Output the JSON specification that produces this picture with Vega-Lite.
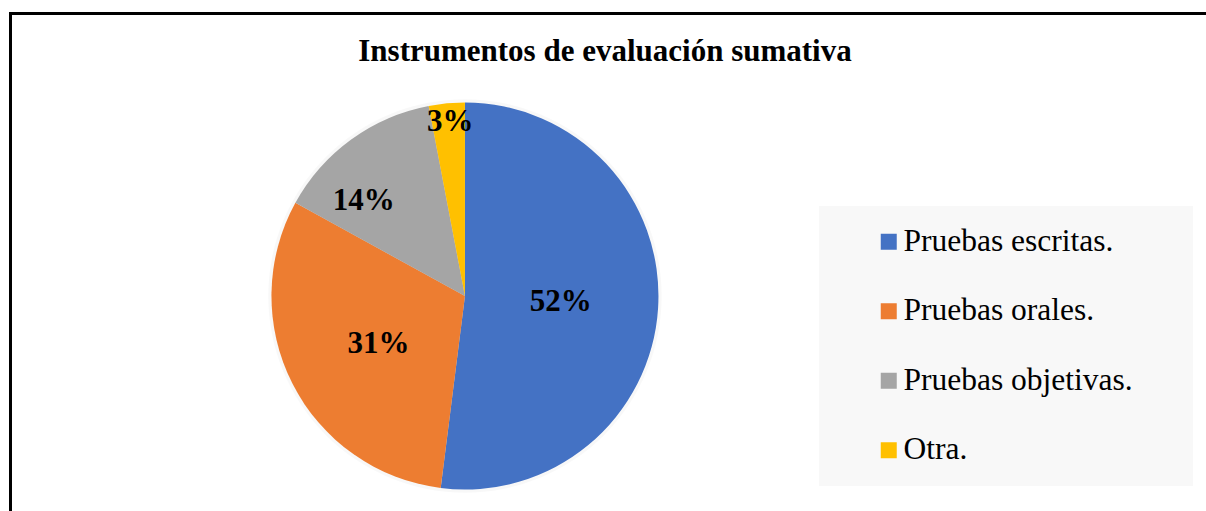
{
  "$schema": "https://vega.github.io/schema/vega-lite/v6.json",
  "width": 1196,
  "height": 498,
  "autosize": {"type": "none"},
  "padding": {"left": 10, "top": 13, "right": 0, "bottom": 0},
  "background": "white",
  "config": {"view": {"stroke": null}, "font": "Liberation Serif"},
  "title": {
    "text": "Instrumentos de evaluación sumativa",
    "font": "Liberation Serif",
    "fontSize": 31,
    "fontWeight": "bold",
    "color": "black",
    "anchor": "middle",
    "frame": "group",
    "baseline": "alphabetic",
    "offset": -79,
    "dx": -3
  },
  "data": {
    "values": [
      {"categoria": "Pruebas escritas.", "porcentaje": 0.52, "orden": 1},
      {"categoria": "Pruebas orales.", "porcentaje": 0.31, "orden": 2},
      {"categoria": "Pruebas objetivas.", "porcentaje": 0.14, "orden": 3},
      {"categoria": "Otra.", "porcentaje": 0.03, "orden": 4}
    ]
  },
  "layer": [
    {
      "data": {"values": [{"k": "sombra"}]},
      "mark": {"type": "point", "shape": "circle", "filled": true, "color": "black", "opacity": 0.028, "size": 154830, "strokeWidth": 0},
      "encoding": {
        "x": {"datum": 38.04, "type": "quantitative", "scale": {"domain": [0, 100], "nice": false, "zero": false}, "axis": {"orient": "top", "domain": true, "domainColor": "black", "domainWidth": 3, "domainCap": "square", "ticks": false, "labels": false, "grid": false, "title": null}},
        "y": {"datum": 56.83, "type": "quantitative", "scale": {"domain": [0, 100], "nice": false, "zero": false, "reverse": true}, "axis": {"orient": "left", "domain": true, "domainColor": "black", "domainWidth": 3, "domainCap": "square", "ticks": false, "labels": false, "grid": false, "title": null}}
      }
    },
    {
      "data": {"values": [{"k": "sombra"}]},
      "mark": {"type": "point", "shape": "circle", "filled": true, "color": "black", "opacity": 0.028, "size": 146574, "strokeWidth": 0},
      "encoding": {"x": {"datum": 38.04, "type": "quantitative"}, "y": {"datum": 56.83, "type": "quantitative"}}
    },
    {
      "data": {"values": [{"k": "sombra"}]},
      "mark": {"type": "point", "shape": "circle", "filled": true, "color": "black", "opacity": 0.028, "size": 138544, "strokeWidth": 0},
      "encoding": {"x": {"datum": 38.04, "type": "quantitative"}, "y": {"datum": 56.83, "type": "quantitative"}}
    },
    {
      "data": {"values": [{"k": "sombra"}]},
      "mark": {"type": "point", "shape": "circle", "filled": true, "color": "black", "opacity": 0.028, "size": 130741, "strokeWidth": 0},
      "encoding": {"x": {"datum": 38.04, "type": "quantitative"}, "y": {"datum": 56.83, "type": "quantitative"}}
    },
    {
      "data": {"values": [{"k": "sombra"}]},
      "mark": {"type": "point", "shape": "circle", "filled": true, "color": "black", "opacity": 0.028, "size": 123163, "strokeWidth": 0},
      "encoding": {"x": {"datum": 38.04, "type": "quantitative"}, "y": {"datum": 56.83, "type": "quantitative"}}
    },
    {
      "mark": {"type": "arc", "radius": 193.5, "stroke": null},
      "encoding": {
        "x": {"datum": 38.04, "type": "quantitative"},
        "y": {"datum": 56.83, "type": "quantitative"},
        "theta": {"field": "porcentaje", "type": "quantitative", "stack": true},
        "order": {"field": "orden", "type": "quantitative"},
        "color": {
          "field": "categoria",
          "type": "nominal",
          "sort": ["Pruebas escritas.", "Pruebas orales.", "Pruebas objetivas.", "Otra."],
          "scale": {"domain": ["Pruebas escritas.", "Pruebas orales.", "Pruebas objetivas.", "Otra."], "range": ["#4472C4", "#ED7D31", "#A5A5A5", "#FFC000"]},
          "legend": {
            "orient": "none",
            "legendX": 809,
            "legendY": 193,
            "title": "\u00a0",
            "titleOrient": "right",
            "titleFontSize": 10,
            "titlePadding": 40,
            "padding": 20,
            "fillColor": "#f8f8f8",
            "strokeColor": null,
            "symbolType": "square",
            "symbolSize": 256,
            "symbolStrokeWidth": 0,
            "symbolOffset": 34,
            "labelOffset": -1,
            "labelFont": "Liberation Serif",
            "labelFontSize": 31.5,
            "labelColor": "black",
            "labelLimit": 400,
            "rowPadding": 36.5
          }
        }
      }
    },
    {
      "mark": {"type": "text", "radius": 96, "font": "Liberation Serif", "fontSize": 31, "fontWeight": "bold", "color": "black", "align": "center", "baseline": "middle"},
      "encoding": {
        "x": {"datum": 38.04, "type": "quantitative"},
        "y": {"datum": 56.83, "type": "quantitative"},
        "theta": {"field": "porcentaje", "type": "quantitative", "stack": true},
        "order": {"field": "orden", "type": "quantitative"},
        "detail": {"field": "categoria", "type": "nominal"},
        "text": {"condition": {"test": "datum.categoria === 'Pruebas escritas.'", "field": "porcentaje", "type": "quantitative", "format": ".0%"}, "value": ""}
      }
    },
    {
      "mark": {"type": "text", "radius": 99, "thetaOffset": -0.04, "font": "Liberation Serif", "fontSize": 31, "fontWeight": "bold", "color": "black", "align": "center", "baseline": "middle"},
      "encoding": {
        "x": {"datum": 38.04, "type": "quantitative"},
        "y": {"datum": 56.83, "type": "quantitative"},
        "theta": {"field": "porcentaje", "type": "quantitative", "stack": true},
        "order": {"field": "orden", "type": "quantitative"},
        "detail": {"field": "categoria", "type": "nominal"},
        "text": {"condition": {"test": "datum.categoria === 'Pruebas orales.'", "field": "porcentaje", "type": "quantitative", "format": ".0%"}, "value": ""}
      }
    },
    {
      "mark": {"type": "text", "radius": 139, "thetaOffset": -0.188, "font": "Liberation Serif", "fontSize": 31, "fontWeight": "bold", "color": "black", "align": "center", "baseline": "middle"},
      "encoding": {
        "x": {"datum": 38.04, "type": "quantitative"},
        "y": {"datum": 56.83, "type": "quantitative"},
        "theta": {"field": "porcentaje", "type": "quantitative", "stack": true},
        "order": {"field": "orden", "type": "quantitative"},
        "detail": {"field": "categoria", "type": "nominal"},
        "text": {"condition": {"test": "datum.categoria === 'Pruebas objetivas.'", "field": "porcentaje", "type": "quantitative", "format": ".0%"}, "value": ""}
      }
    },
    {
      "mark": {"type": "text", "radius": 174.5, "thetaOffset": 0.01, "font": "Liberation Serif", "fontSize": 31, "fontWeight": "bold", "color": "black", "align": "center", "baseline": "middle"},
      "encoding": {
        "x": {"datum": 38.04, "type": "quantitative"},
        "y": {"datum": 56.83, "type": "quantitative"},
        "theta": {"field": "porcentaje", "type": "quantitative", "stack": true},
        "order": {"field": "orden", "type": "quantitative"},
        "detail": {"field": "categoria", "type": "nominal"},
        "text": {"condition": {"test": "datum.categoria === 'Otra.'", "field": "porcentaje", "type": "quantitative", "format": ".0%"}, "value": ""}
      }
    }
  ]
}
